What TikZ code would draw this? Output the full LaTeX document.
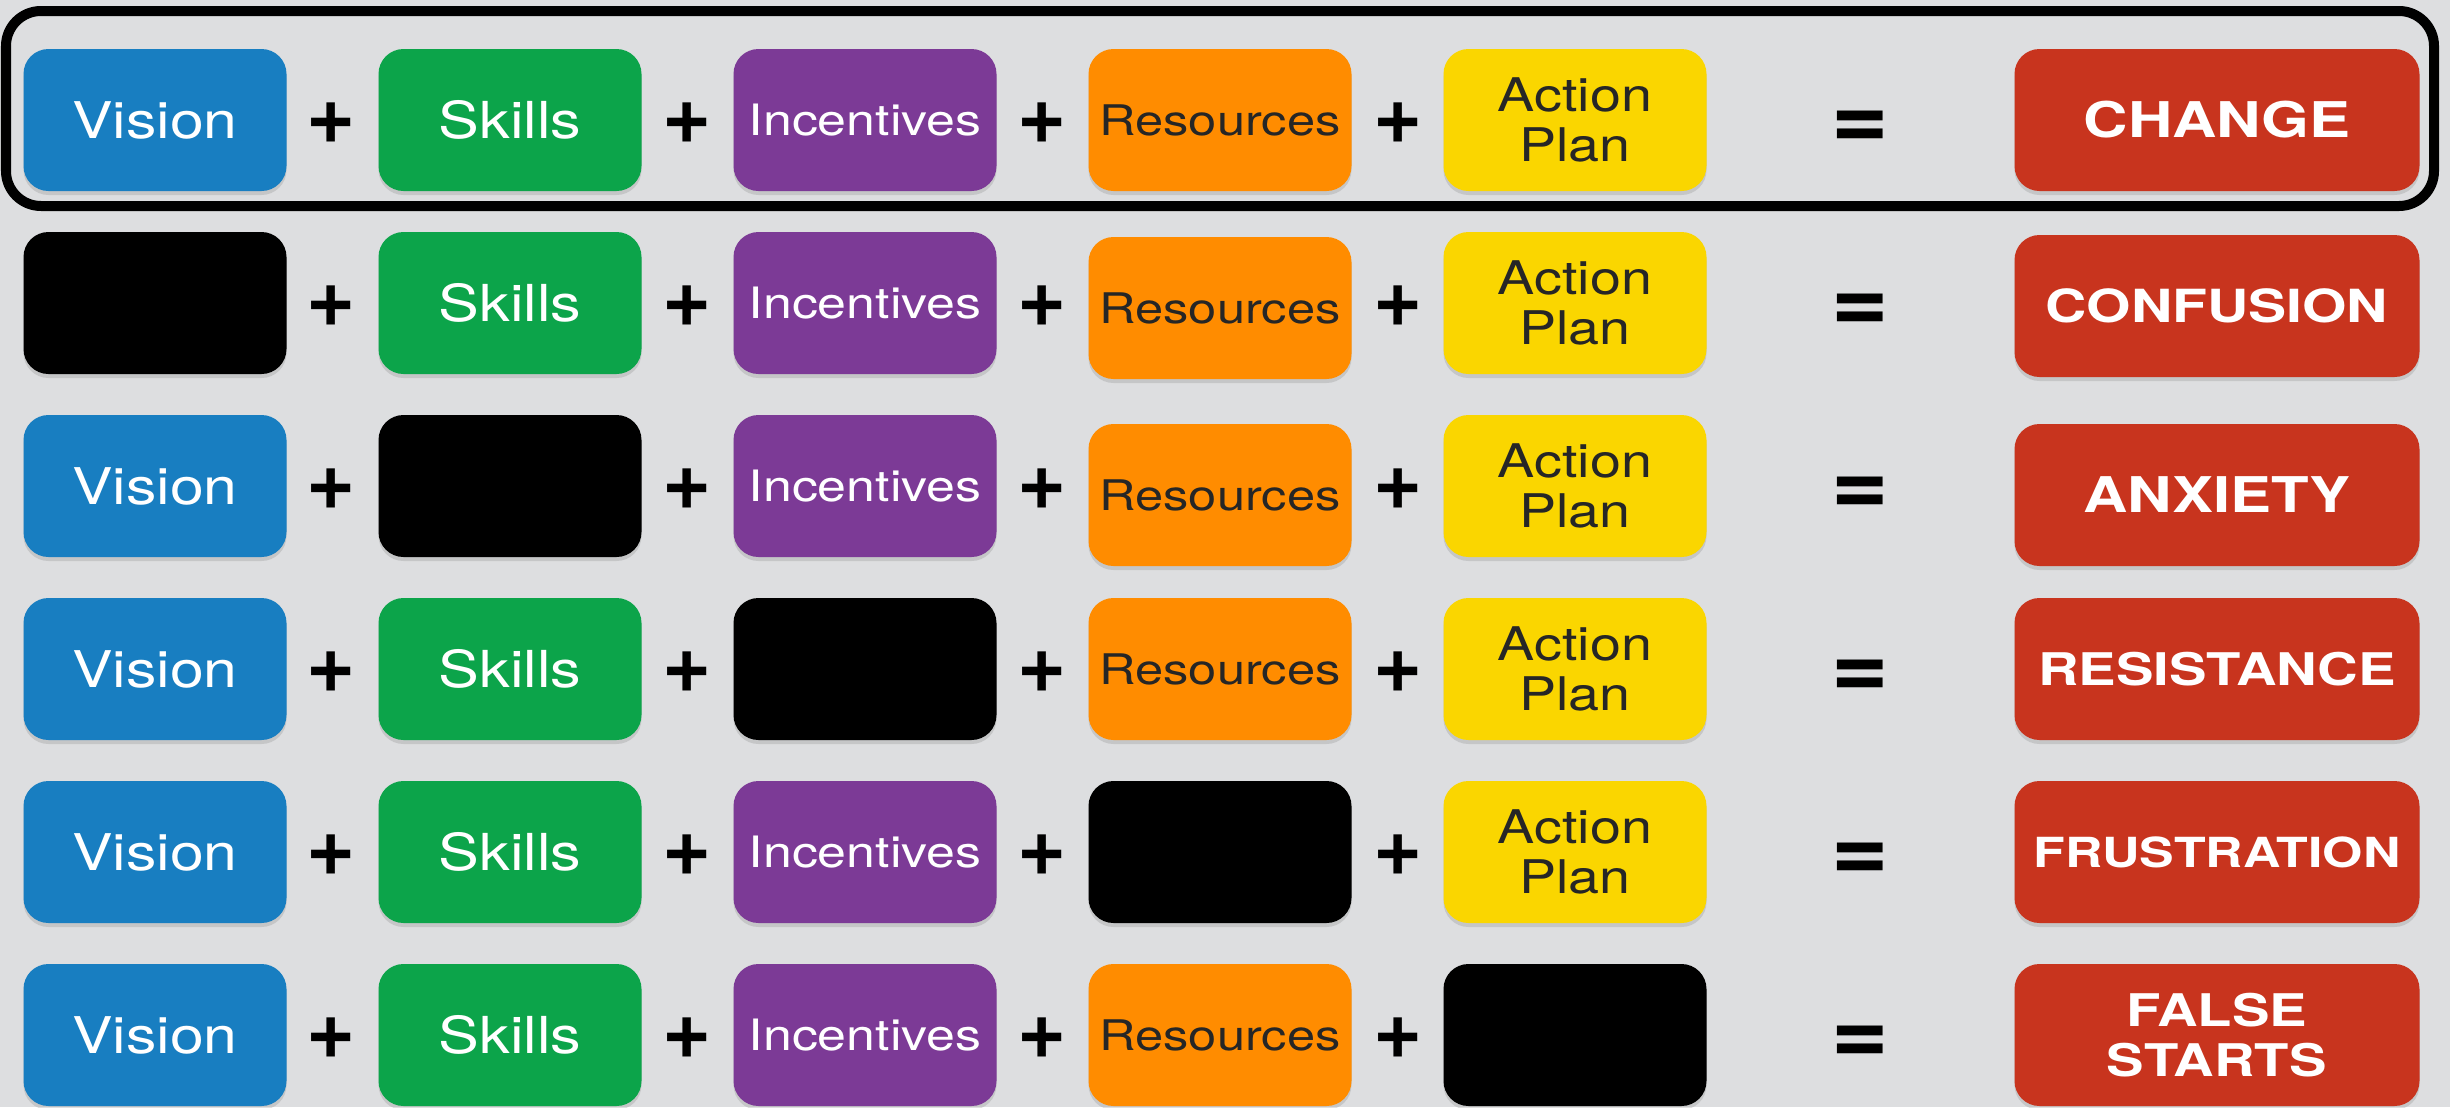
\documentclass[tikz,border=0pt]{standalone}
\usepackage{fontspec}
\usetikzlibrary{shadows}

\newfontfamily\tilefont{TeX Gyre Heros}[FakeStretch=1.2]
\newfontfamily\outfont{TeX Gyre Heros}[FakeStretch=1.25]
\newfontfamily\signfont{TeX Gyre Heros}

\definecolor{bgray}{RGB}{221,222,224}
\definecolor{vblue}{RGB}{24,126,193}
\definecolor{sgreen}{RGB}{12,164,74}
\definecolor{ipurple}{RGB}{124,58,150}
\definecolor{rorange}{RGB}{255,140,0}
\definecolor{ayellow}{RGB}{250,214,0}
\definecolor{cred}{RGB}{200,52,30}

\tikzset{
  tile/.style = {rounded corners = 0.25cm, minimum width = 2.63cm, minimum height = 1.42cm, inner sep = 0pt, align = center, drop shadow = {shadow xshift = 0pt, shadow yshift = -0.04cm, opacity = 0.25}},
  vision/.style = {tile, fill = vblue, text = white, font = \tilefont\fontsize{14.4}{17}\selectfont},
  skills/.style = {tile, fill = sgreen, text = white, font = \tilefont\fontsize{14.5}{17}\selectfont},
  incent/.style = {tile, fill = ipurple, text = white, font = \tilefont\fontsize{12.3}{15}\selectfont},
  resrc/.style = {tile, fill = rorange, text = black!85, font = \tilefont\fontsize{12}{15}\selectfont},
  action/.style = {tile, fill = ayellow, text = black!85, font = \tilefont\fontsize{13.2}{14.2}\selectfont},
  blank/.style = {tile, fill = black},
  outcome/.style = {tile, minimum width = 4.05cm, fill = cred, text = white, font = \outfont\bfseries\fontsize{#1}{14.2}\selectfont},
  plus/.style = {font = \signfont\bfseries\fontsize{24}{24}\selectfont, inner sep = 0pt},
  equal/.style = {font = \signfont\bfseries\fontsize{28}{28}\selectfont, inner sep = 0pt}
}

\begin{document}
\begin{tikzpicture}
\fill[bgray] (0, 0) rectangle (24.5, 11.07);
\useasboundingbox (0, 0) rectangle (24.5, 11.07);

% row 1
\node (vis1) at (1.55, 9.87) [vision] {Vision};
\node (pl1a) at (3.31, 9.84) [plus] {+};
\node (ski1) at (5.10, 9.87) [skills] {Skills};
\node (pl1b) at (6.87, 9.84) [plus] {+};
\node (inc1) at (8.65, 9.87) [incent] {Incentives};
\node (pl1c) at (10.42, 9.84) [plus] {+};
\node (res1) at (12.20, 9.87) [resrc] {Resources};
\node (pl1d) at (13.98, 9.84) [plus] {+};
\node (act1) at (15.75, 9.87) [action] {Action\\Plan};
\node (eq1) at (18.60, 9.77) [equal] {=};
\node (out1) at (22.17, 9.87) [outcome=14] {CHANGE};
\draw[line width = 0.1cm, rounded corners = 0.35cm] (0.06, 10.96) rectangle (24.34, 9.01);

% row 2
\node (vis2) at (1.55, 8.04) [blank] {};
\node (pl2a) at (3.31, 8.01) [plus] {+};
\node (ski2) at (5.10, 8.04) [skills] {Skills};
\node (pl2b) at (6.87, 8.01) [plus] {+};
\node (inc2) at (8.65, 8.04) [incent] {Incentives};
\node (pl2c) at (10.42, 8.01) [plus] {+};
\node (res2) at (12.20, 7.99) [resrc] {Resources};
\node (pl2d) at (13.98, 8.01) [plus] {+};
\node (act2) at (15.75, 8.04) [action] {Action\\Plan};
\node (eq2) at (18.60, 7.94) [equal] {=};
\node (out2) at (22.17, 8.01) [outcome=13] {CONFUSION};

% row 3
\node (vis3) at (1.55, 6.21) [vision] {Vision};
\node (pl3a) at (3.31, 6.18) [plus] {+};
\node (ski3) at (5.10, 6.21) [blank] {};
\node (pl3b) at (6.87, 6.18) [plus] {+};
\node (inc3) at (8.65, 6.21) [incent] {Incentives};
\node (pl3c) at (10.42, 6.18) [plus] {+};
\node (res3) at (12.20, 6.12) [resrc] {Resources};
\node (pl3d) at (13.98, 6.18) [plus] {+};
\node (act3) at (15.75, 6.21) [action] {Action\\Plan};
\node (eq3) at (18.60, 6.11) [equal] {=};
\node (out3) at (22.17, 6.12) [outcome=14] {ANXIETY};

% row 4
\node (vis4) at (1.55, 4.38) [vision] {Vision};
\node (pl4a) at (3.31, 4.35) [plus] {+};
\node (ski4) at (5.10, 4.38) [skills] {Skills};
\node (pl4b) at (6.87, 4.35) [plus] {+};
\node (inc4) at (8.65, 4.38) [blank] {};
\node (pl4c) at (10.42, 4.35) [plus] {+};
\node (res4) at (12.20, 4.38) [resrc] {Resources};
\node (pl4d) at (13.98, 4.35) [plus] {+};
\node (act4) at (15.75, 4.38) [action] {Action\\Plan};
\node (eq4) at (18.60, 4.28) [equal] {=};
\node (out4) at (22.17, 4.38) [outcome=12.8] {RESISTANCE};

% row 5
\node (vis5) at (1.55, 2.55) [vision] {Vision};
\node (pl5a) at (3.31, 2.52) [plus] {+};
\node (ski5) at (5.10, 2.55) [skills] {Skills};
\node (pl5b) at (6.87, 2.52) [plus] {+};
\node (inc5) at (8.65, 2.55) [incent] {Incentives};
\node (pl5c) at (10.42, 2.52) [plus] {+};
\node (res5) at (12.20, 2.55) [blank] {};
\node (pl5d) at (13.98, 2.52) [plus] {+};
\node (act5) at (15.75, 2.55) [action] {Action\\Plan};
\node (eq5) at (18.60, 2.45) [equal] {=};
\node (out5) at (22.17, 2.55) [outcome=11.8] {FRUSTRATION};

% row 6
\node (vis6) at (1.55, 0.72) [vision] {Vision};
\node (pl6a) at (3.31, 0.69) [plus] {+};
\node (ski6) at (5.10, 0.72) [skills] {Skills};
\node (pl6b) at (6.87, 0.69) [plus] {+};
\node (inc6) at (8.65, 0.72) [incent] {Incentives};
\node (pl6c) at (10.42, 0.69) [plus] {+};
\node (res6) at (12.20, 0.72) [resrc] {Resources};
\node (pl6d) at (13.98, 0.69) [plus] {+};
\node (act6) at (15.75, 0.72) [blank] {};
\node (eq6) at (18.60, 0.62) [equal] {=};
\node (out6) at (22.17, 0.72) [outcome=12.8] {FALSE\\STARTS};
\end{tikzpicture}
\end{document}
